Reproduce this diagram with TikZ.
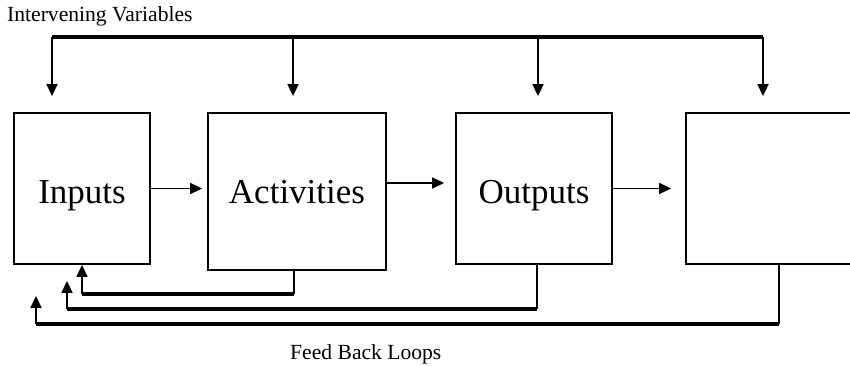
\documentclass[tikz,border=0pt]{standalone}
\usepackage{fontspec}
\setmainfont{Liberation Serif}
\usepackage{tikz}
\usetikzlibrary{arrows.meta,positioning,calc}

\tikzset{
    stage/.style={draw, line width=1.8pt, inner sep=0pt, minimum height=151pt,
        text height=29pt, text depth=0pt, font=\fontsize{35}{40}\selectfont},
    caption/.style={anchor=base west, inner sep=0pt, font=\fontsize{21.6}{24}\selectfont},
    bus/.style={line width=3.2pt},
    drop/.style={line width=1.7pt},
    tip/.style={-{Triangle[length=12pt,width=11pt]}}
}

\begin{document}
\begin{tikzpicture}[x=1pt,y=-1pt]
    \clip (0,0) rectangle (850,366);

    % Stages
    \node[stage, minimum width=136pt] (inputs) at (82,188.5) {Inputs};
    \node[stage, minimum width=178pt, minimum height=157pt, text height=23pt] (activities) at (297,191.5) {Activities};
    \node[stage, minimum width=156pt] (outputs) at (534,188.5) {Outputs};
    \node[stage, minimum width=214pt] (result) at (793,188.5) {};

    % Forward flow
    \draw[drop,tip,shorten >=5pt] (inputs.east) -- (activities.west |- inputs.east);
    \draw[drop,tip,shorten >=11pt] ([yshift=8.5pt]activities.east) -- ([yshift=5.5pt]outputs.west);
    \draw[drop,tip,shorten >=14pt] (outputs.east) -- (result.west);

    % Intervening variables
    \node[caption] (iv) at (7,21.5) {Intervening Variables};
    \draw[bus] (52,37) coordinate (busL) -- (763,37) coordinate (busR);
    \foreach \s/\x in {inputs/52, activities/293, outputs/538, result/763} {
        \coordinate (d\s) at (\x,37);
        \draw[drop,tip,shorten >=16pt] (d\s) -- (d\s |- \s.north);
    }

    % Feed back loops
    \foreach \s/\xa/\ya/\xb/\gap in {activities/294/294/82/0pt, outputs/537/309/67/16pt, result/779/324/36/31pt} {
        \coordinate (fa) at (\xa,\ya);
        \coordinate (fb) at (\xb,\ya);
        \draw[drop] (fa |- \s.south) -- (fa);
        \draw[bus] (fa) -- (fb);
        \draw[drop,tip,shorten >=\gap] (fb) -- (fb |- inputs.south);
    }
    \node[caption] (fbl) at (290,359) {Feed Back Loops};
\end{tikzpicture}
\end{document}
